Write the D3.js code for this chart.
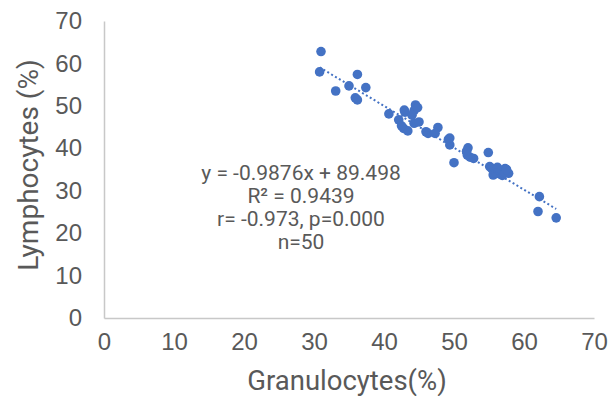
<!DOCTYPE html>
<html>
<head>
<meta charset="utf-8">
<script src="https://cdn.jsdelivr.net/npm/d3@7"></script>
<style>
  html, body { margin: 0; padding: 0; background: #fff; }
  svg { display: block; font-family: Roboto, 'Noto Sans', sans-serif; }
</style>
</head>
<body>
<div id="chart"></div>
<script>
// Granulocytes (%) per sample
const granulocytes = [
  31.0, 30.8, 36.2, 33.1, 35.0, 37.4, 35.9, 36.2, 40.7, 42.9,
  44.5, 44.3, 42.1, 42.8, 43.4, 44.3, 46.0, 46.3, 47.7, 47.3,
  49.2, 49.4, 50.0, 52.0, 51.9, 52.8, 54.9, 55.1, 55.9, 57.0,
  55.6, 56.6, 57.3, 57.8, 62.2, 62.0, 64.6, 43.0, 44.0, 42.5,
  44.8, 45.0, 49.4, 52.3, 51.8, 55.4, 56.2, 56.9, 56.0, 57.5
];
// Lymphocytes (%) per sample
const lymphocytes = [
  62.8, 58.0, 57.4, 53.5, 54.7, 54.3, 51.9, 51.4, 48.1, 49.0,
  50.2, 48.9, 46.7, 44.7, 44.1, 45.9, 43.9, 43.5, 44.9, 43.5,
  42.1, 40.8, 36.6, 40.1, 38.4, 37.6, 39.0, 35.7, 34.9, 34.5,
  33.7, 33.9, 35.2, 34.1, 28.6, 25.1, 23.6, 48.5, 47.8, 45.3,
  49.6, 46.2, 42.4, 37.9, 39.3, 35.2, 35.5, 33.6, 34.2, 35.0
];
const xTicks = [0, 10, 20, 30, 40, 50, 60, 70];
const yTicks = [0, 10, 20, 30, 40, 50, 60, 70];
const slope = -0.9876;
const intercept = 89.498;
const statLines = ['y = -0.9876x + 89.498', 'R² = 0.9439', 'r= -0.973, p=0.000', 'n=50'];

const data = granulocytes.map((g, i) => ({ g, l: lymphocytes[i] }));

const width = 616;
const height = 396;
const blue = '#4472C4';
const axisGrey = '#C8C8C8';
const textGrey = '#595959';

const x = d3.scaleLinear().domain([0, 70]).range([104, 594]);
const y = d3.scaleLinear().domain([0, 70]).range([318, 21]);

const svg = d3.select('#chart').append('svg')
  .attr('width', width)
  .attr('height', height)
  .attr('viewBox', [0, 0, width, height]);

// x axis
const gx = svg.append('g')
  .attr('transform', `translate(0,${y(0)})`)
  .call(d3.axisBottom(x).tickValues(xTicks).tickSize(0).tickPadding(15).tickSizeOuter(0));
gx.select('.domain').attr('stroke', axisGrey).attr('stroke-width', 1.5);
gx.selectAll('.tick text').attr('fill', textGrey).attr('font-size', 24).attr('font-family', null);

// y axis
const gy = svg.append('g')
  .attr('transform', `translate(${x(0)},0)`)
  .call(d3.axisLeft(y).tickValues(yTicks).tickSize(0).tickPadding(22).tickSizeOuter(0));
gy.select('.domain').attr('stroke', axisGrey).attr('stroke-width', 1.5);
gy.selectAll('.tick text').attr('fill', textGrey).attr('font-size', 24).attr('font-family', null);

// axis titles
svg.append('text')
  .attr('x', 347)
  .attr('y', 390)
  .attr('text-anchor', 'middle')
  .attr('fill', textGrey)
  .attr('font-size', 27.5)
  .text('Granulocytes(%)');

svg.append('text')
  .attr('transform', 'translate(38,165) rotate(-90)')
  .attr('text-anchor', 'middle')
  .attr('fill', textGrey)
  .attr('font-size', 28)
  .text('Lymphocytes (%)');

// points
svg.append('g')
  .attr('fill', blue)
  .selectAll('circle')
  .data(data)
  .join('circle')
  .attr('cx', (d) => x(d.g))
  .attr('cy', (d) => y(d.l))
  .attr('r', 4.8);

// linear trendline (dotted)
const [gMin, gMax] = d3.extent(granulocytes);
svg.append('line')
  .attr('x1', x(gMin))
  .attr('y1', y(slope * gMin + intercept))
  .attr('x2', x(gMax))
  .attr('y2', y(slope * gMax + intercept))
  .attr('stroke', blue)
  .attr('stroke-width', 2)
  .attr('stroke-dasharray', '2 2.5');

// regression stats label
svg.append('g')
  .selectAll('text')
  .data(statLines)
  .join('text')
  .attr('x', 301)
  .attr('y', (d, i) => 180 + i * 23)
  .attr('text-anchor', 'middle')
  .attr('fill', textGrey)
  .attr('font-size', 21)
  .text((d) => d);
</script>
</body>
</html>
